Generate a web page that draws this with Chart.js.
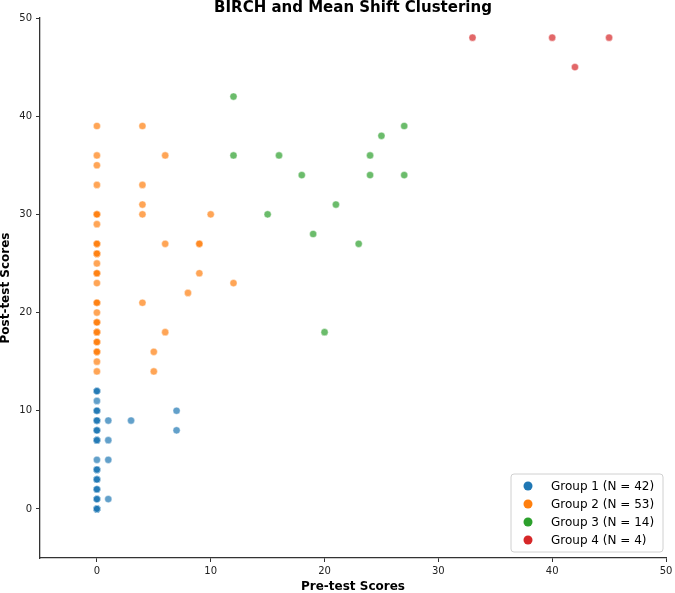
<!DOCTYPE html>
<html>
<head>
<meta charset="utf-8">
<script src="https://cdn.jsdelivr.net/npm/chart.js@4.4.0/dist/chart.umd.min.js"></script>
<style>
  body { margin: 0; background: #fff; }
  canvas { display: block; }
</style>
</head>
<body>
<canvas id="grafico" width="675" height="593"></canvas>
<script>
// dados
const grupos = ['Group 1 (N = 42)', 'Group 2 (N = 53)', 'Group 3 (N = 14)', 'Group 4 (N = 4)']
const ticks_x = [0, 10, 20, 30, 40, 50]
const ticks_y = [0, 10, 20, 30, 40, 50]

const g1_x = [0,0,0, 0, 0,0,0, 0,0,0, 0,0,0, 0,0,0, 0, 0,0,0, 0,0,0, 0,0,0, 0,0,0, 0,0,0,0,0,0, 1,3,7,7,1,1,1]
const g1_y = [12,12,12, 11, 10,10,10, 9,9,9, 8,8,8, 7,7,7, 5, 4,4,4, 3,3,3, 2,2,2, 1,1,1, 0,0,0,0,0,0, 9,9,10,8,7,5,1]

const g2_x = [0,0,0,0,0,0,0,0,0,0,
  0,0,0, 0,0,0, 0,0,0, 0,0,0, 0,0,0, 0,0,0, 0,0,0, 0,0,0, 0,0,0,
  4,6,4,4,4,10,6,9,9,9,4,8,12,6,5,5]
const g2_y = [39,36,35,33,29,25,23,20,15,14,
  30,30,30, 27,27,27, 26,26,26, 24,24,24, 21,21,21, 19,19,19, 18,18,18, 17,17,17, 16,16,16,
  39,36,33,31,30,30,27,27,27,24,21,22,23,18,16,14]

const g3_x = [12,12,16,24,27,25,18,24,27,21,15,19,23,20]
const g3_y = [42,36,36,36,39,38,34,34,34,31,30,28,27,18]

const g4_x = [33,40,45,42]
const g4_y = [48,48,48,45]

const cores = ['31, 119, 180', '255, 127, 14', '44, 160, 44', '214, 39, 40']

function monta_pontos(xs, ys){
    var pontos = []
    for(let i = 0; i < xs.length; i++){
        pontos.push({x: xs[i], y: ys[i]})
    }
    return pontos
}

function monta_dataset(i, xs, ys){
    return {
        label: grupos[i],
        data: monta_pontos(xs, ys),
        backgroundColor: `rgba(${cores[i]}, 0.7)`,
        borderColor: 'rgba(255, 255, 255, 0.7)',
        borderWidth: 0.6,
        pointRadius: 3.6,
        pointHoverRadius: 3.6,
        order: 4 - i
    }
}

// titulo e legenda desenhados a mao, como no matplotlib
const titulo_legenda = {
    id: 'titulo_legenda',
    afterDraw(chart){
        const ctx = chart.ctx
        ctx.save()
        ctx.fillStyle = '#000'
        ctx.font = 'bold 15px "DejaVu Sans"'
        ctx.textAlign = 'center'
        ctx.textBaseline = 'alphabetic'
        ctx.fillText('BIRCH and Mean Shift Clustering', (chart.chartArea.left + chart.chartArea.right) / 2, 12)

        var x0 = 511, y0 = 474, w = 152, h = 78, r = 3
        ctx.beginPath()
        ctx.moveTo(x0 + r, y0)
        ctx.arcTo(x0 + w, y0, x0 + w, y0 + h, r)
        ctx.arcTo(x0 + w, y0 + h, x0, y0 + h, r)
        ctx.arcTo(x0, y0 + h, x0, y0, r)
        ctx.arcTo(x0, y0, x0 + w, y0, r)
        ctx.closePath()
        ctx.fillStyle = 'rgba(255, 255, 255, 0.8)'
        ctx.fill()
        ctx.strokeStyle = '#d0d0d0'
        ctx.lineWidth = 1
        ctx.stroke()

        ctx.font = '12px "DejaVu Sans"'
        ctx.textAlign = 'left'
        ctx.textBaseline = 'middle'
        for(let i = 0; i < grupos.length; i++){
            let yy = 486 + i * 18
            ctx.beginPath()
            ctx.arc(528, yy, 4.5, 0, Math.PI * 2)
            ctx.fillStyle = `rgb(${cores[i]})`
            ctx.fill()
            ctx.fillStyle = '#000'
            ctx.fillText(grupos[i], 551, yy + 0.5)
        }
        ctx.restore()
    }
}

function fixa_ticks(lista){
    return function(scale){
        scale.ticks = lista.map(v => ({value: v}))
    }
}

const ctx = document.getElementById('grafico').getContext('2d')
const myChart = new Chart(ctx, {
    type: 'scatter',
    data: {
        datasets: [
            monta_dataset(0, g1_x, g1_y),
            monta_dataset(1, g2_x, g2_y),
            monta_dataset(2, g3_x, g3_y),
            monta_dataset(3, g4_x, g4_y)
        ]
    },
    options: {
        responsive: false,
        animation: false,
        layout: { padding: { top: 18, right: 9, left: 0, bottom: 0 } },
        plugins: {
            legend: { display: false },
            title: { display: false },
            tooltip: { enabled: false }
        },
        scales: {
            x: {
                type: 'linear',
                min: -5,
                max: 50,
                afterBuildTicks: fixa_ticks(ticks_x),
                afterFit(scale){ scale.height = 35; scale.paddingLeft = 0; scale.paddingRight = 0 },
                grid: { display: true, drawOnChartArea: false, drawTicks: true, tickLength: 4, color: '#333', lineWidth: 1 },
                border: { display: true, color: '#333', width: 1.3 },
                ticks: { font: { family: 'DejaVu Sans', size: 10 }, color: '#222', padding: 3, maxRotation: 0 },
                title: { display: true, text: 'Pre-test Scores', color: '#000', padding: 0,
                    font: { family: 'DejaVu Sans', size: 12, weight: 'bold', lineHeight: 1 } }
            },
            y: {
                type: 'linear',
                min: -5,
                max: 50,
                afterBuildTicks: fixa_ticks(ticks_y),
                afterFit(scale){ scale.width = 40 },
                grid: { display: true, drawOnChartArea: false, drawTicks: true, tickLength: 4, color: '#333', lineWidth: 1 },
                border: { display: true, color: '#333', width: 1.3 },
                ticks: { font: { family: 'DejaVu Sans', size: 10 }, color: '#222', padding: 4 },
                title: { display: true, text: 'Post-test Scores', color: '#000', padding: 0,
                    font: { family: 'DejaVu Sans', size: 12, weight: 'bold', lineHeight: 1 } }
            }
        }
    },
    plugins: [titulo_legenda]
})
</script>
</body>
</html>
